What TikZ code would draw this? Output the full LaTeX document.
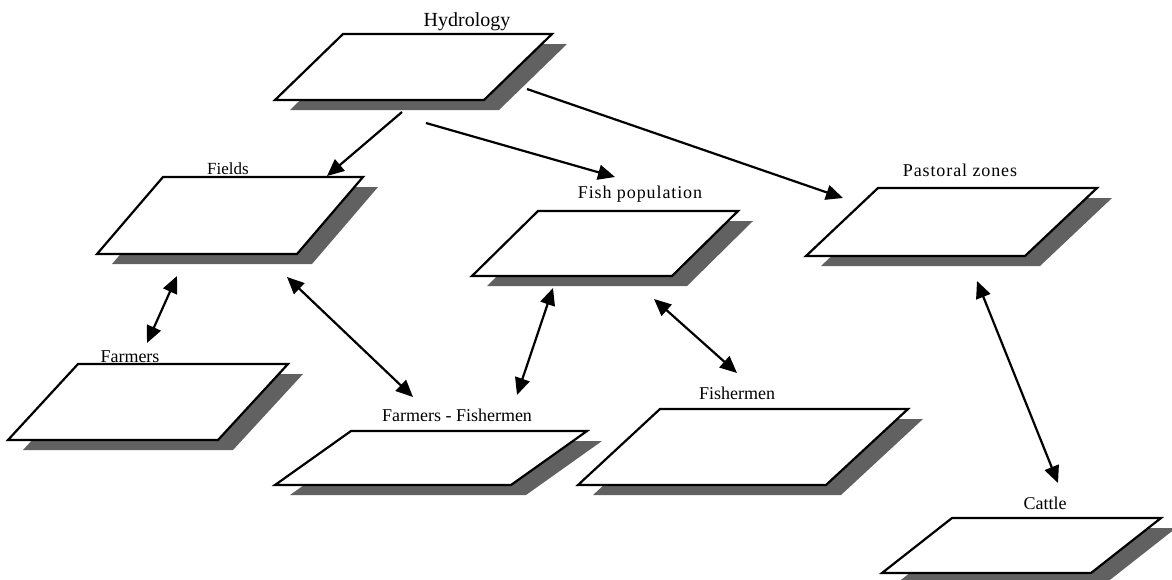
\documentclass[tikz,border=0pt]{standalone}
\usepackage{fontspec}
\setmainfont{Liberation Serif}
\newfontfamily\widefont[LetterSpace=5]{Liberation Serif}
\usetikzlibrary{arrows.meta}
\tikzset{
  plane/.style={draw=black, line width=1.1pt, fill=white, line join=miter,
    preaction={fill=black!62, transform canvas={xshift=7.5pt, yshift=-5pt}}},
  lbl/.style={inner sep=0pt, font=\fontsize{9}{10}\selectfont},
  feed/.style={line width=1.1pt, -{Triangle[length=8.5pt, width=7.5pt]}},
  link/.style={line width=1.1pt, {Triangle[length=8.5pt, width=7.5pt]}-{Triangle[length=8.5pt, width=7.5pt]}}
}

\begin{document}
\begin{tikzpicture}[x=0.5pt, y=-0.5pt]
        \useasboundingbox (0,0) rectangle (1172,579);

        % Planes (bottom-left corner, width, slant)
        \draw[plane] (275,100) -- ++(209,0) -- ++(68,-66) -- ++(-209,0) -- cycle; % hydrology
        \draw[plane] (97,254) -- ++(200,0) -- ++(66,-77) -- ++(-200,0) -- cycle; % fields
        \draw[plane] (472,276) -- ++(200,0) -- ++(66,-65) -- ++(-200,0) -- cycle; % fish population
        \draw[plane] (806,256) -- ++(219,0) -- ++(72,-68) -- ++(-219,0) -- cycle; % pastoral zones
        \draw[plane] (8,440) -- ++(210,0) -- ++(70,-76) -- ++(-210,0) -- cycle; % farmers
        \draw[plane] (275,485) -- ++(236,0) -- ++(76,-54) -- ++(-236,0) -- cycle; % farmers-fishermen
        \draw[plane] (578,485) -- ++(248,0) -- ++(82,-76) -- ++(-248,0) -- cycle; % fishermen
        \draw[plane] (882,573) -- ++(209,0) -- ++(70,-55) -- ++(-209,0) -- cycle; % cattle

        % Labels
        \node[lbl, font=\fontsize{10}{12}\selectfont] (hydro) at (467,22) {Hydrology};
        \node[lbl, font=\fontsize{8.5}{10}\selectfont] (fields) at (228,169) {Fields};
        \node[lbl, font=\widefont\fontsize{9}{10}\selectfont] (fish) at (640,194) {Fish population};
        \node[lbl, font=\widefont\fontsize{9}{10}\selectfont] (pastoral) at (960,170) {Pastoral zones};
        \node[lbl] (farmers) at (130,357) {Farmers};
        \node[lbl] (farmfish) at (457,415) {Farmers - Fishermen};
        \node[lbl] (fishermen) at (737,393) {Fishermen};
        \node[lbl] (cattle) at (1045,503) {Cattle};

        % Arrow ends
        \coordinate (hydro-a) at (402,112);
        \coordinate (hydro-b) at (426,123);
        \coordinate (hydro-c) at (527,89);
        \coordinate (fields-in) at (327,176);
        \coordinate (fish-in) at (615,177);
        \coordinate (pastoral-in) at (843,198);
        \coordinate (fields-l) at (177,276);
        \coordinate (fields-r) at (287,277);
        \coordinate (fish-l) at (553,288);
        \coordinate (fish-r) at (654,299);
        \coordinate (pastoral-b) at (977,281);
        \coordinate (farmers-t) at (147,343);
        \coordinate (farmfish-l) at (413,397);
        \coordinate (farmfish-r) at (517,395);
        \coordinate (fishermen-t) at (737,373);
        \coordinate (cattle-t) at (1058,483);

        % Connectors
        \draw[feed] (hydro-a) -- (fields-in);
        \draw[feed] (hydro-b) -- (fish-in);
        \draw[feed] (hydro-c) -- (pastoral-in);
        \draw[link] (fields-l) -- (farmers-t);
        \draw[link] (fields-r) -- (farmfish-l);
        \draw[link] (fish-l) -- (farmfish-r);
        \draw[link] (fish-r) -- (fishermen-t);
        \draw[link] (pastoral-b) -- (cattle-t);
    \end{tikzpicture}
\end{document}
